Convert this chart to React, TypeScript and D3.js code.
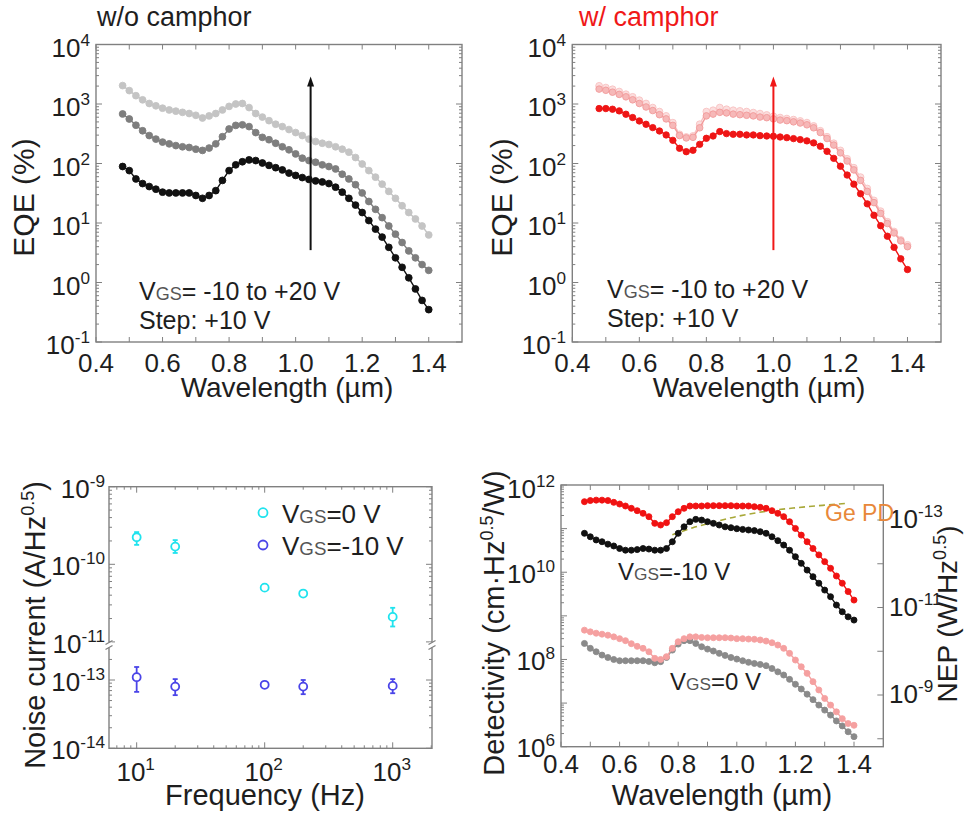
import React from "react";
import * as d3 from "d3";

const FONT = "'Liberation Sans', Arial, Helvetica, sans-serif";
const AXIS = "#808080";
const INK = "#1e1e1e";

// Wavelength grid shared by every spectral curve (µm)
const wavelength = [
  0.48, 0.5, 0.52, 0.54, 0.56, 0.58, 0.6, 0.62, 0.64, 0.66, 0.68, 0.7, 0.72, 0.74, 0.76, 0.78,
  0.8, 0.82, 0.84, 0.86, 0.88, 0.9, 0.92, 0.94, 0.96, 0.98, 1.0, 1.02, 1.04, 1.06, 1.08, 1.1,
  1.12, 1.14, 1.16, 1.18, 1.2, 1.22, 1.24, 1.26, 1.28, 1.3, 1.32, 1.34, 1.36, 1.38, 1.4,
];

// EQE (%) without camphor, gate voltage increasing from dark to light
const eqeBareLow = [
  89, 76, 55, 46, 41, 37, 33, 32, 32, 32, 32, 29, 26, 29, 35, 52, 76, 95, 107, 115, 112, 102, 93, 85,
  78, 69, 63, 58, 54, 51, 49, 46, 40, 33, 26, 20, 15, 11, 7.9, 5.8, 3.9, 2.6, 1.8, 1.2, 0.78, 0.5, 0.35,
];
const eqeBareMid = [
  680, 560, 440, 355, 295, 257, 229, 214, 200, 191, 186, 174, 166, 182, 214, 282, 380, 437, 447, 417,
  331, 275, 251, 219, 191, 170, 145, 123, 112, 105, 95, 89, 81, 66, 55, 44, 32, 23, 17, 12.3, 8.9, 6.5,
  4.7, 3.4, 2.6, 2.0, 1.6,
];
const eqeBareHigh = [
  2040, 1680, 1380, 1175, 1020, 933, 851, 794, 759, 724, 692, 646, 582, 631, 692, 794, 912, 1000, 1020,
  871, 692, 603, 525, 457, 417, 372, 331, 295, 257, 234, 219, 209, 191, 174, 155, 126, 98, 76, 59, 45,
  34, 26, 19.5, 15, 11.7, 8.9, 6.3,
];

// EQE (%) with camphor
const eqeCamphorLow = [
  838, 838, 817, 766, 673, 592, 519, 456, 401, 352, 302, 245, 180, 158, 167, 210, 265, 290, 344, 318,
  310, 310, 302, 302, 294, 290, 287, 279, 272, 262, 252, 240, 222, 195, 160, 122, 90, 64, 45, 31, 21,
  13.5, 9, 6, 3.9, 2.5, 1.65,
];
const eqeCamphorMid = [
  1780, 1700, 1580, 1450, 1320, 1175, 1020, 891, 776, 661, 562, 437, 295, 269, 275, 398, 631, 676, 724,
  708, 676, 661, 646, 631, 603, 589, 562, 537, 525, 501, 479, 447, 398, 331, 263, 204, 151, 110, 78, 52,
  34, 22, 14.5, 9.8, 6.8, 5.0, 4.0,
];
const eqeCamphorHigh = [
  2020, 1890, 1770, 1620, 1460, 1320, 1160, 1020, 871, 746, 631, 486, 309, 279, 290, 457, 746, 785, 871,
  817, 785, 766, 746, 718, 690, 655, 622, 592, 569, 547, 519, 486, 428, 355, 282, 219, 166, 120, 85, 59,
  38, 24, 15.8, 10.5, 7.2, 5.2, 4.3,
];

// Specific detectivity (cm·Hz^0.5/W)
const detCamphorNeg10 = [
  4.15e11, 4.4e11, 4.5e11, 4.5e11, 4.4e11, 4.0e11, 3.66e11, 3.3e11, 2.92e11, 2.58e11, 2.24e11, 1.88e11,
  1.32e11, 1.21e11, 1.37e11, 1.88e11, 2.44e11, 2.92e11, 3.3e11, 3.3e11, 3.3e11, 3.36e11, 3.36e11,
  3.36e11, 3.36e11, 3.36e11, 3.3e11, 3.3e11, 3.3e11, 3.18e11, 3.08e11, 2.92e11, 2.58e11, 2.24e11,
  1.88e11, 1.44e11, 1.01e11, 7.1e10, 5.0e10, 3.5e10, 2.5e10, 1.75e10, 1.23e10, 8.2e9, 5.6e9, 3.6e9, 2.3e9,
];
const detBareNeg10 = [
  7.8e10, 6.5e10, 5.5e10, 5.0e10, 4.4e10, 4.0e10, 3.5e10, 3.2e10, 3.2e10, 3.3e10, 3.5e10, 3.4e10, 3.2e10,
  3.2e10, 3.5e10, 5.0e10, 7.8e10, 1.1e11, 1.44e11, 1.63e11, 1.57e11, 1.44e11, 1.32e11, 1.21e11, 1.1e11,
  1.05e11, 9.95e10, 9.6e10, 9.3e10, 9.0e10, 8.5e10, 7.8e10, 6.5e10, 5.3e10, 4.2e10, 3.2e10, 2.27e10,
  1.6e10, 1.12e10, 7.9e9, 5.6e9, 3.9e9, 2.75e9, 1.77e9, 1.24e9, 9.5e8, 8.0e8,
];
const detCamphor0 = [
  4.7e8, 4.3e8, 4.0e8, 3.8e8, 3.6e8, 3.3e8, 3.0e8, 2.7e8, 2.3e8, 2.0e8, 1.8e8, 1.5e8, 1.06e8, 1.0e8,
  1.16e8, 1.8e8, 2.55e8, 3.0e8, 3.3e8, 3.3e8, 3.2e8, 3.15e8, 3.15e8, 3.15e8, 3.15e8, 3.1e8, 3.0e8, 3.0e8,
  2.94e8, 2.9e8, 2.8e8, 2.64e8, 2.42e8, 2.14e8, 1.8e8, 1.38e8, 9.7e7, 6.8e7, 4.8e7, 3.1e7, 2.0e7, 1.28e7,
  9.0e6, 6.3e6, 4.4e6, 3.4e6, 3.1e6,
];
const detBare0 = [
  2.33e8, 1.8e8, 1.5e8, 1.26e8, 1.11e8, 1.0e8, 9.35e7, 9.35e7, 9.35e7, 9.35e7, 9.35e7, 9.0e7, 8.4e7,
  8.9e7, 1.11e8, 1.64e8, 2.25e8, 2.7e8, 2.7e8, 2.33e8, 1.96e8, 1.73e8, 1.56e8, 1.38e8, 1.24e8, 1.11e8,
  1.02e8, 9.35e7, 8.6e7, 8.1e7, 7.7e7, 7.2e7, 6.2e7, 5.2e7, 4.4e7, 3.5e7, 2.7e7, 2.1e7, 1.6e7, 1.2e7,
  9.0e6, 6.9e6, 5.3e6, 3.9e6, 3.0e6, 2.2e6, 1.7e6,
];

// Commercial Ge photodiode reference
const geWavelength = [0.78, 0.85, 0.92, 1.0, 1.1, 1.2, 1.3, 1.38];
const geDetectivity = [7.2e10, 1.05e11, 1.4e11, 1.9e11, 2.5e11, 3.0e11, 3.45e11, 3.8e11];

// Noise current spectral density (A/Hz^0.5)
const noiseFreq = [10, 20, 100, 200, 1000];
const noise0V = [2.23e-10, 1.69e-10, 5.0e-11, 4.2e-11, 2.1e-11];
const noise0VHigh = [2.6e-10, 2.05e-10, 5.3e-11, 4.5e-11, 2.75e-11];
const noise0VLow = [1.78e-10, 1.4e-10, 4.7e-11, 3.9e-11, 1.58e-11];
const noiseNeg10V = [1.1e-13, 8.0e-14, 8.5e-14, 8.0e-14, 8.2e-14];
const noiseNeg10VHigh = [1.55e-13, 1.03e-13, 9.2e-14, 1.0e-13, 1.03e-13];
const noiseNeg10VLow = [6.7e-14, 6.0e-14, 7.8e-14, 6.2e-14, 6.4e-14];

// Tick labels
const wavelengthLabels = [0.4, 0.6, 0.8, 1.0, 1.2, 1.4];
const eqeDecades = [-1, 0, 1, 2, 3, 4];
const detDecades = [6, 8, 10, 12];
const nepDecades = [-13, -11, -9];
const nepTickDecades = [-13, -12, -11, -10, -9, -8];
const freqDecades = [1, 2, 3];
const noiseUpperDecades = [-9, -10, -11];
const noiseLowerDecades = [-13, -14];

type Scale = (v: number) => number;
type Curve = { values: number[]; stroke: string; fill: string; r: number };

function Pow10({ x, y, exp, anchor = "end", size = 26 }: any) {
  return (
    <text x={x} y={y} textAnchor={anchor} fontSize={size} fill={INK}>
      10
      <tspan dy={-11} fontSize={size * 0.66}>
        {exp}
      </tspan>
    </text>
  );
}

function Vgs({ rest, size }: { rest: string; size: number }) {
  return (
    <>
      <tspan>V</tspan>
      <tspan fontSize={size * 0.72} fill="#555">
        GS
      </tspan>
      <tspan>{rest}</tspan>
    </>
  );
}

function Curves({ x, y, curves }: { x: Scale; y: Scale; curves: Curve[] }) {
  return (
    <g>
      {curves.map((c, i) => {
        const line = d3
          .line<number>()
          .x((_, j) => x(wavelength[j]))
          .y((v) => y(v));
        return (
          <g key={i}>
            <path d={line(c.values) || ""} fill="none" stroke={c.stroke} strokeWidth={1.4} />
            {c.values.map((v, j) => (
              <circle key={j} cx={x(wavelength[j])} cy={y(v)} r={c.r} fill={c.fill} stroke={c.stroke} strokeWidth={0.9} />
            ))}
          </g>
        );
      })}
    </g>
  );
}

function WavelengthTicks({ x, top, bottom, labelY }: { x: Scale; top: number; bottom: number; labelY: number }) {
  const steps = d3.range(4, 15).map((i) => i / 10);
  return (
    <g>
      <g stroke={AXIS} strokeWidth={1}>
        {steps.map((v) => (
          <g key={v}>
            <line x1={x(v)} x2={x(v)} y1={bottom} y2={bottom - 5} />
            <line x1={x(v)} x2={x(v)} y1={top} y2={top + 5} />
          </g>
        ))}
      </g>
      {wavelengthLabels.map((v) => (
        <text key={v} x={x(v)} y={labelY} textAnchor="middle" fontSize={26} fill={INK}>
          {v.toFixed(1)}
        </text>
      ))}
    </g>
  );
}

function LogTicksY({ y, left, right, lo, hi, mirror = true }: any) {
  const items: any[] = [];
  const e0 = Math.floor(Math.log10(lo));
  const e1 = Math.ceil(Math.log10(hi));
  for (let e = e0; e <= e1; e++) {
    for (let m = 1; m < 10; m++) {
      const v = m * Math.pow(10, e);
      if (v < lo * 0.999 || v > hi * 1.001) continue;
      const yy = y(v);
      const len = m === 1 ? 6 : 3;
      items.push(<line key={`a${e}_${m}`} x1={left} x2={left + len} y1={yy} y2={yy} />);
      if (mirror) items.push(<line key={`b${e}_${m}`} x1={right} x2={right - len} y1={yy} y2={yy} />);
    }
  }
  return (
    <g stroke={AXIS} strokeWidth={1}>
      {items}
    </g>
  );
}

function Arrow({ x, y0, y1, color }: { x: number; y0: number; y1: number; color: string }) {
  return (
    <g>
      <line x1={x} x2={x} y1={y0} y2={y1 + 8} stroke={color} strokeWidth={2} />
      <path d={`M${x},${y1} L${x - 3.5},${y1 + 10} L${x + 3.5},${y1 + 10} Z`} fill={color} />
    </g>
  );
}

export default function App() {
  // ---- EQE panels ----
  const tl = { left: 96, right: 462, top: 44.5, bottom: 342 };
  const tr = { left: 572.3, right: 941, top: 44.5, bottom: 342 };
  const tlX = d3.scaleLinear().domain([0.4, 1.5]).range([tl.left, tl.right]);
  const trX = d3.scaleLinear().domain([0.4, 1.5]).range([tr.left, tr.right]);
  const eqeY = d3.scaleLog().domain([0.1, 1e4]).range([tl.bottom, tl.top]);

  // ---- Noise panel ----
  const bl = { left: 109, right: 432, top: 486.7, bottom: 748.3, gap: 645 };
  const blX = d3.scaleLog().domain([6.08, 2028]).range([bl.left, bl.right]);
  const blYUp = d3.scaleLog().domain([1e-11, 1e-9]).range([641.9, bl.top]);
  const blYLo = d3.scaleLog().domain([1e-14, 1e-13]).range([bl.bottom, 680]);
  const blY = (v: number) => (v >= 1e-12 ? blYUp(v) : blYLo(v));

  // ---- Detectivity panel ----
  const br = { left: 561, right: 883.3, top: 485, bottom: 746.7 };
  const brX = d3.scaleLinear().domain([0.4, 1.5]).range([br.left, br.right]);
  const brY = d3.scaleLog().domain([1e6, 1e12]).range([br.bottom, br.top]);
  const nepY = d3.scaleLog().domain([1e-13, 1e-9]).range([520, 695]);

  const geLine = d3
    .line<number>()
    .x((_, i) => brX(geWavelength[i]))
    .y((v) => brY(v))
    .curve(d3.curveMonotoneX);

  const freqMinor: number[] = [];
  for (let e = 0; e <= 3; e++) for (let m = 1; m < 10; m++) freqMinor.push(m * Math.pow(10, e));

  const cyan = "#1fe3ee";
  const blue = "#4a44e8";

  const noiseMarks = (vals: number[], hi: number[], lo: number[], color: string) =>
    vals.map((v, i) => {
      const cx = blX(noiseFreq[i]);
      return (
        <g key={i} stroke={color} strokeWidth={1.8} fill="none">
          <line x1={cx} x2={cx} y1={blY(hi[i])} y2={blY(lo[i])} />
          <line x1={cx - 2.5} x2={cx + 2.5} y1={blY(hi[i])} y2={blY(hi[i])} />
          <line x1={cx - 2.5} x2={cx + 2.5} y1={blY(lo[i])} y2={blY(lo[i])} />
          <circle cx={cx} cy={blY(v)} r={4} fill="#fff" />
        </g>
      );
    });

  return (
    <svg
      width={964}
      height={816}
      viewBox="0 0 964 816"
      style={{ position: "absolute", left: 0, top: 0, fontFamily: FONT }}
    >
      <rect width={964} height={816} fill="#fff" />

      {/* ===== EQE without camphor ===== */}
      <text x={97} y={26} fontSize={27} fill={INK}>
        w/o camphor
      </text>
      <Curves
        x={tlX}
        y={eqeY}
        curves={[
          { values: eqeBareHigh, stroke: "#c4c4c4", fill: "#c4c4c4", r: 3.4 },
          { values: eqeBareMid, stroke: "#7e7e7e", fill: "#7e7e7e", r: 3.4 },
          { values: eqeBareLow, stroke: "#111", fill: "#111", r: 3.4 },
        ]}
      />
      <Arrow x={tlX(1.045)} y0={eqeY(3.5)} y1={eqeY(2900)} color="#111" />
      <rect x={tl.left} y={tl.top} width={tl.right - tl.left} height={tl.bottom - tl.top} fill="none" stroke={AXIS} strokeWidth={1.4} />
      <WavelengthTicks x={tlX} top={tl.top} bottom={tl.bottom} labelY={372} />
      <LogTicksY y={eqeY} left={tl.left} right={tl.right} lo={0.1} hi={1e4} />
      {eqeDecades.map((e) => (
        <Pow10 key={e} x={90} y={eqeY(Math.pow(10, e)) + 12} exp={e} />
      ))}
      <text transform="translate(34,197.5) rotate(-90)" textAnchor="middle" fontSize={30} fill={INK}>
        EQE (%)
      </text>
      <text x={287} y={397} textAnchor="middle" fontSize={28} fill={INK}>
        Wavelength (µm)
      </text>
      <text x={139} y={300} fontSize={25} fill={INK}>
        <Vgs rest="= -10 to +20 V" size={25} />
      </text>
      <text x={139} y={329} fontSize={25} fill={INK}>
        Step: +10 V
      </text>

      {/* ===== EQE with camphor ===== */}
      <text x={579} y={26} fontSize={27} fill="#f01818">
        w/ camphor
      </text>
      <Curves
        x={trX}
        y={eqeY}
        curves={[
          { values: eqeCamphorHigh, stroke: "#f8c2c2", fill: "#fbdede", r: 3.4 },
          { values: eqeCamphorMid, stroke: "#f29a9a", fill: "#f6b8b8", r: 3.3 },
          { values: eqeCamphorLow, stroke: "#ee1515", fill: "#ee1515", r: 3.2 },
        ]}
      />
      <Arrow x={trX(1.0)} y0={eqeY(3.5)} y1={eqeY(2900)} color="#f01818" />
      <rect x={tr.left} y={tr.top} width={tr.right - tr.left} height={tr.bottom - tr.top} fill="none" stroke={AXIS} strokeWidth={1.4} />
      <WavelengthTicks x={trX} top={tr.top} bottom={tr.bottom} labelY={372} />
      <LogTicksY y={eqeY} left={tr.left} right={tr.right} lo={0.1} hi={1e4} />
      {eqeDecades.map((e) => (
        <Pow10 key={e} x={566} y={eqeY(Math.pow(10, e)) + 12} exp={e} />
      ))}
      <text transform="translate(512,197.5) rotate(-90)" textAnchor="middle" fontSize={30} fill={INK}>
        EQE (%)
      </text>
      <text x={759} y={397} textAnchor="middle" fontSize={28} fill={INK}>
        Wavelength (µm)
      </text>
      <text x={607} y={298} fontSize={25} fill={INK}>
        <Vgs rest="= -10 to +20 V" size={25} />
      </text>
      <text x={607} y={327} fontSize={25} fill={INK}>
        Step: +10 V
      </text>

      {/* ===== Noise current ===== */}
      <rect x={bl.left} y={bl.top} width={bl.right - bl.left} height={bl.bottom - bl.top} fill="none" stroke={AXIS} strokeWidth={1.4} />
      <g stroke={AXIS} strokeWidth={1}>
        {freqMinor
          .filter((f) => f >= 6.08 && f <= 2028)
          .map((f) => {
            const len = Math.abs(Math.log10(f) - Math.round(Math.log10(f))) < 1e-9 ? 6 : 3;
            return (
              <g key={f}>
                <line x1={blX(f)} x2={blX(f)} y1={bl.bottom} y2={bl.bottom - len} />
                <line x1={blX(f)} x2={blX(f)} y1={bl.top} y2={bl.top + len} />
              </g>
            );
          })}
      </g>
      <LogTicksY y={blYUp} left={bl.left} right={bl.right} lo={1e-11} hi={1e-9} />
      <LogTicksY y={blYLo} left={bl.left} right={bl.right} lo={1e-14} hi={2e-13} />
      {/* axis break */}
      {[bl.left, bl.right].map((x) => (
        <g key={x}>
          <rect x={x - 3} y={bl.gap - 2.5} width={6} height={5} fill="#fff" />
          <line x1={x - 3.5} x2={x + 3.5} y1={bl.gap - 0.5} y2={bl.gap - 4.5} stroke={AXIS} strokeWidth={1.2} />
          <line x1={x - 3.5} x2={x + 3.5} y1={bl.gap + 4.5} y2={bl.gap + 0.5} stroke={AXIS} strokeWidth={1.2} />
        </g>
      ))}
      {noiseMarks(noise0V, noise0VHigh, noise0VLow, cyan)}
      {noiseMarks(noiseNeg10V, noiseNeg10VHigh, noiseNeg10VLow, blue)}
      {noiseUpperDecades.map((e) => (
        <Pow10 key={e} x={105} y={blYUp(Math.pow(10, e)) + 11} exp={e} />
      ))}
      {noiseLowerDecades.map((e) => (
        <Pow10 key={e} x={105} y={blYLo(Math.pow(10, e)) + 11} exp={e} />
      ))}
      {freqDecades.map((e) => (
        <Pow10 key={e} x={blX(Math.pow(10, e)) - 1} y={781} exp={e} anchor="middle" />
      ))}
      <circle cx={263} cy={512.7} r={4.5} fill="none" stroke={cyan} strokeWidth={1.8} />
      <circle cx={263} cy={545} r={4.5} fill="none" stroke={blue} strokeWidth={1.8} />
      <text x={282} y={523} fontSize={26} fill={INK}>
        <Vgs rest="=0 V" size={26} />
      </text>
      <text x={282} y={555} fontSize={26} fill={INK}>
        <Vgs rest="=-10 V" size={26} />
      </text>
      <text transform="translate(45,625) rotate(-90)" textAnchor="middle" fontSize={29} fill={INK}>
        Noise current (A/Hz
        <tspan dy={-11} fontSize={18}>
          0.5
        </tspan>
        <tspan dy={11}>)</tspan>
      </text>
      <text x={265} y={805} textAnchor="middle" fontSize={29} fill={INK}>
        Frequency (Hz)
      </text>

      {/* ===== Detectivity / NEP ===== */}
      <path d={geLine(geDetectivity) || ""} fill="none" stroke="#a8a838" strokeWidth={1.6} strokeDasharray="6,4" />
      <Curves
        x={brX}
        y={brY}
        curves={[
          { values: detBare0, stroke: "#8a8a8a", fill: "#8a8a8a", r: 3 },
          { values: detCamphor0, stroke: "#f5a0a0", fill: "#f5a0a0", r: 3 },
          { values: detBareNeg10, stroke: "#111", fill: "#111", r: 3 },
          { values: detCamphorNeg10, stroke: "#f01212", fill: "#f01212", r: 3 },
        ]}
      />
      <rect x={br.left} y={br.top} width={br.right - br.left} height={br.bottom - br.top} fill="none" stroke={AXIS} strokeWidth={1.4} />
      <WavelengthTicks x={brX} top={br.top} bottom={br.bottom} labelY={773} />
      <LogTicksY y={brY} left={br.left} right={br.right} lo={1e6} hi={1e12} mirror={false} />
      <g stroke={AXIS} strokeWidth={1}>
        {nepTickDecades.map((e) => (
          <line key={e} x1={br.right} x2={br.right - 6} y1={nepY(Math.pow(10, e))} y2={nepY(Math.pow(10, e))} />
        ))}
      </g>
      {detDecades.map((e) => (
        <Pow10 key={e} x={555} y={brY(Math.pow(10, e)) + (e === 12 ? 13 : 10.5)} exp={e} />
      ))}
      {nepDecades.map((e) => (
        <Pow10 key={e} x={889} y={nepY(Math.pow(10, e)) + 8} exp={e} anchor="start" />
      ))}
      <text x={618} y={580} fontSize={24} fill={INK}>
        <Vgs rest="=-10 V" size={24} />
      </text>
      <text x={670} y={690} fontSize={24} fill={INK}>
        <Vgs rest="=0 V" size={24} />
      </text>
      <text x={825} y={521} fontSize={23} fill="#e8883a">
        Ge PD
      </text>
      <text transform="translate(503.5,623) rotate(-90)" textAnchor="middle" fontSize={29} fill={INK}>
        Detectivity (cm·Hz
        <tspan dy={-11} fontSize={18}>
          0.5
        </tspan>
        <tspan dy={11}>/W)</tspan>
      </text>
      <text transform="translate(957,614) rotate(-90)" textAnchor="middle" fontSize={28} fill={INK}>
        NEP (W/Hz
        <tspan dy={-11} fontSize={18}>
          0.5
        </tspan>
        <tspan dy={11}>)</tspan>
      </text>
      <text x={722} y={805} textAnchor="middle" fontSize={29} fill={INK}>
        Wavelength (µm)
      </text>
    </svg>
  );
}
